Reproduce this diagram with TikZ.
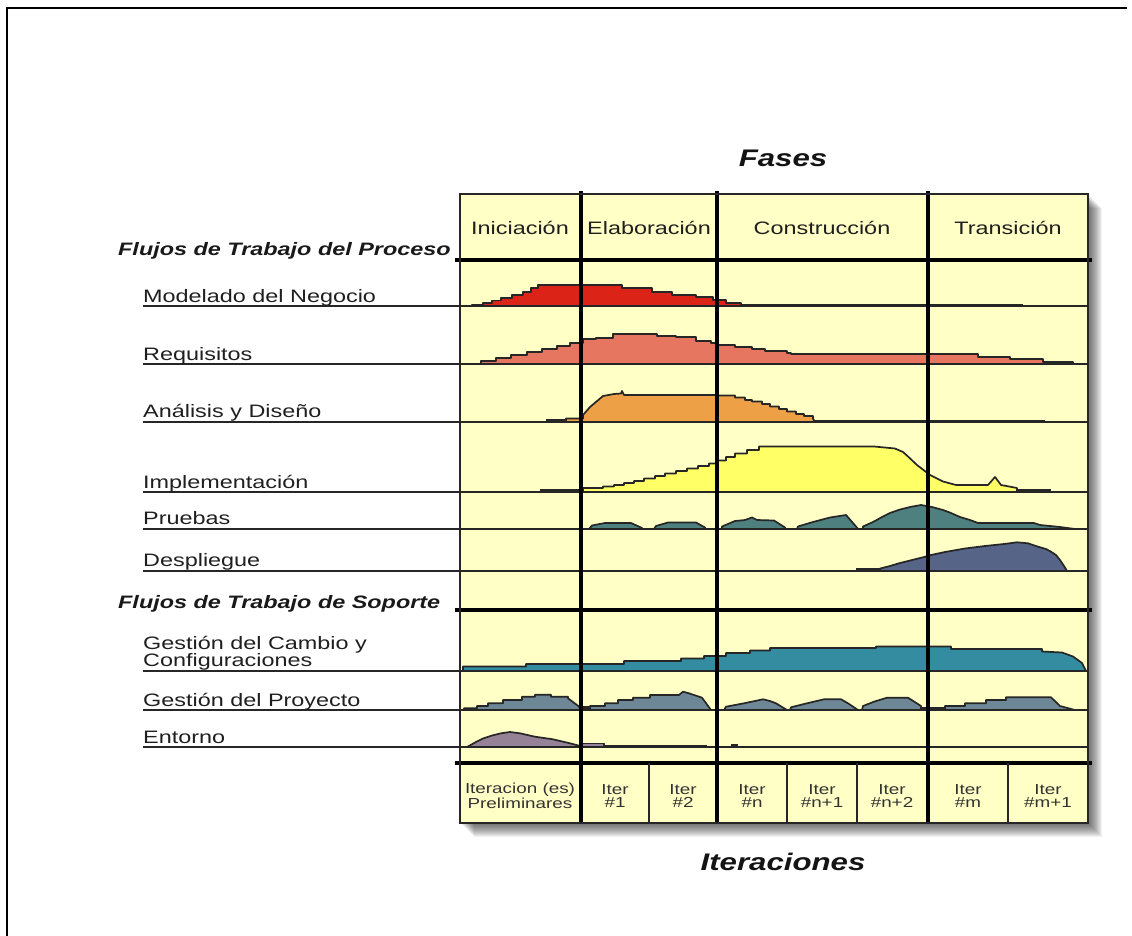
\documentclass[tikz,border=0pt]{standalone}
\usepackage{fontspec}
\setmainfont{Liberation Sans}[FakeStretch=1.3]
\definecolor{paper}{HTML}{FFFFC6}
\definecolor{cModel}{HTML}{DC2318}
\definecolor{cReq}{HTML}{E6765F}
\definecolor{cAnal}{HTML}{EEA046}
\definecolor{cImpl}{HTML}{FFFF66}
\definecolor{cTest}{HTML}{4E8080}
\definecolor{cDepl}{HTML}{556487}
\definecolor{cConf}{HTML}{348CA0}
\definecolor{cProj}{HTML}{6E8796}
\definecolor{cEnv}{HTML}{968296}
\begin{document}
\begin{tikzpicture}[x=1pt,y=-1pt,
  lbl/.style={font=\fontsize{18}{16.5}\selectfont, anchor=base west, inner sep=0pt, text=black!88},
  hdr/.style={font=\fontsize{18}{16.5}\selectfont\bfseries\itshape, anchor=base west, inner sep=0pt, text=black!90},
  phase/.style={font=\fontsize{18}{16.5}\selectfont, anchor=base, inner sep=0pt, text=black!88},
  ttl/.style={font=\fontsize{24}{26}\selectfont\bfseries\itshape, anchor=base, inner sep=0pt, text=black!92},
  iterlbl/.style={font=\fontsize{14.5}{13.5}\selectfont, align=center, inner sep=0pt, text=black!80},
  humpline/.style={draw=black!85, line width=1.7pt, line join=round},
  stubline/.style={draw=black!85, line width=2.4pt},
  rowrule/.style={draw=black!85, line width=1.3pt},
  heavyrule/.style={draw=black, line width=3.4pt},
  thinrule/.style={draw=black!85, line width=1.6pt},
  frameline/.style={draw=black, line width=2.8pt}
]
\useasboundingbox (0,0) rectangle (1132,936);

% outer frame (top and left edges)
\draw[frameline] (7,936) -- (7,8) -- (1127,8);

% soft drop shadow of the chart
\foreach \k in {1,...,14}
  \fill[black, opacity=0.055] (460+\k,194+\k) rectangle (1088+\k,823+\k);

% chart background
\fill[paper] (460,194) rectangle (1088,823);

% ---------- process workflows ----------
% Modelado del Negocio
\filldraw[humpline, fill=cModel] plot[const plot] coordinates {(464,306) (472,305) (483,303) (492,300.5) (501,298) (512,295) (523,291.7) (531,288.3) (538,285) (622,288.3) (652,291.7) (672,295) (696,297.3) (713,300) (726,302.7) (741,305) (752,306)} -- cycle;
\draw[stubline] (741,304.8) -- (1023,304.8);
\draw[stubline, line width=1.8pt] (1023,305.4) -- (1077,305.4);

% Requisitos
\filldraw[humpline, fill=cReq] plot[const plot] coordinates {(464,364) (481,361) (496,357.7) (511,355) (527,352.3) (542,349.3) (557,346) (570,343.3) (583,339.3) (596,338) (613,334) (657,336) (676,337.3) (696,340.7) (711,343.3) (717,345) (735,346.7) (752,349.3) (765,351.3) (787,353.3) (791,354) (978,356.7) (1010,359.3) (1043,361.7) (1073,364)} -- cycle;

% Analisis y Diseno
\draw[stubline] (546,420.5) -- (566,420.5);
\filldraw[humpline, fill=cAnal] (566,422) -- (566,418.5) -- (583,418.5) -- (583,415) -- (590,407) -- (603,396) -- (614,394) -- (621,393.5) -- (622,391) -- (624,395)
  -- plot[const plot] coordinates {(624,395) (717,395.5) (735,397.5) (745,400) (752,401.5) (762,404) (770,406.5) (779,409) (787,411.5) (796,414) (804,416) (813,418.5)} -- (815,422) -- cycle;
\draw[stubline] (813,420.8) -- (1045,420.8);

% Implementacion
\draw[stubline] (540,490.5) -- (583,490.5);
\filldraw[humpline, fill=cImpl] (583,492)
  -- plot[const plot] coordinates {(583,488) (603,486.5) (614,485) (624,483) (634,481) (644,478.5) (655,476) (665,473.5) (676,471) (687,468.5) (698,466) (709,463.5) (717,460.5) (726,457) (735,453.5) (747,450) (759,446.5)}
  -- (874,446.5) -- (895,448.5) -- (903,452) -- (908,456.5) -- (917,465) -- (930,475) -- (943,481.5) -- (956,485) -- (988,485) -- (995,477) -- (1001,485) -- (1017,488) -- (1017,492) -- cycle;
\draw[stubline] (1017,490.5) -- (1051,490.5);

% Pruebas
\filldraw[humpline, fill=cTest] (589,529) -- (592,525.5) -- (605,523) -- (631,523) -- (642,528) -- (642,529) -- cycle;
\filldraw[humpline, fill=cTest] (654,529) -- (656,526) -- (668,522.5) -- (696,522.5) -- (705,527.5) -- (705,529) -- cycle;
\filldraw[humpline, fill=cTest] (722,529) -- (722,526.5) -- (735,521) -- (745,520) -- (752,517.5) -- (757,520) -- (774,520.5) -- (785,527.5) -- (785,529) -- cycle;
\filldraw[humpline, fill=cTest] (797,529) -- (798,526.5) -- (813,522) -- (830,517.5) -- (846,515) -- (856,526.5) -- (858,529) -- cycle;
\filldraw[humpline, fill=cTest] (863,529) -- (863,526.5) -- (873,522) -- (882,517) -- (890,513) -- (900,509.5) -- (910,507) -- (921,505) -- (932,507) -- (943,510) -- (951,513) -- (960,517) -- (970,520) -- (978,523) -- (1034,523) -- (1040,525) -- (1060,527) -- (1075,529) -- cycle;

% Despliegue
\draw[stubline] (856,569.5) -- (880,569.5);
\filldraw[humpline, fill=cDepl] (880,571) -- (880,568.5) -- (890,566) -- (900,563) -- (912,560) -- (926,556.5) -- (931,555) -- (945,552) -- (965,548.5) -- (985,546) -- (1004,544) -- (1017,542.3) -- (1028,543.3) -- (1038,546.7) -- (1046,549) -- (1051,551.7) -- (1056,555) -- (1060,560) -- (1064,566) -- (1067,571) -- cycle;

% ---------- support workflows ----------
% Gestion del Cambio y Configuraciones
\filldraw[humpline, fill=cConf] (463,671)
  -- plot[const plot] coordinates {(463,666.5) (526,664) (624,661) (681,658.5) (704,656) (726,653) (750,650.5) (770,648) (876,646.5) (951,649) (1042,651.5)}
  -- (1062,652.5) -- (1073,656.5) -- (1082,663) -- (1086,671) -- cycle;

% Gestion del Proyecto
\filldraw[humpline, fill=cProj] (464,710)
  -- plot[const plot] coordinates {(464,708.3) (477,706) (488,703.3) (503,700) (522,696.7) (535,694.7) (551,696.7) (568,698.3)}
  -- (579,706.5) -- (581,710) -- cycle;
\draw[stubline] (581,707.5) -- (590,707.5);
\filldraw[humpline, fill=cProj] (590,710) -- (590,706)
  -- plot[const plot] coordinates {(590,706) (605,703.3) (618,700) (633,697.7) (650,695) (679,695)}
  -- (683,691.7) -- (689,693.3) -- (702,697.7) -- (711,710) -- cycle;
\filldraw[humpline, fill=cProj] (724,710) -- (726,706.7) -- (744,703.3) -- (755,701) -- (763,699.3) -- (770,701) -- (776,703.3) -- (787,710) -- cycle;
\filldraw[humpline, fill=cProj] (790,710) -- (791,707.3) -- (804,704) -- (824,699.3) -- (841,699.3) -- (848,703.3) -- (858,710) -- cycle;
\filldraw[humpline, fill=cProj] (862,710) -- (863,706) -- (874,701.7) -- (887,697.7) -- (908,697.7) -- (921,706) -- (921,710) -- cycle;
\draw[stubline] (921,708) -- (945,708);
\filldraw[humpline, fill=cProj] (945,710)
  -- plot[const plot] coordinates {(945,706) (965,703.3) (986,700) (1006,697.3) (1051,697.3)}
  -- (1060,706) -- (1075,710) -- cycle;

% Entorno
\filldraw[humpline, fill=cEnv] (467,747) -- (476,742) -- (483,738.5) -- (492,735.5) -- (501,733.3) -- (510,732) -- (520,733.3) -- (535,736.7) -- (553,739.3) -- (570,743.3) -- (579,745.7) -- (581,747) -- cycle;
\filldraw[humpline, fill=cEnv] (581,747) -- (581,743.5) -- (604,743.5) -- (604,747) -- cycle;
\draw[stubline, line width=1.8pt] (604,745.8) -- (707,745.8);
\fill[black!85] (731,743.5) rectangle (738,747);

% ---------- row rules ----------
\foreach \yy in {306,364,422,492,529,571,671,710,747}
  \draw[rowrule] (143,\yy) -- (1088,\yy);

% heavy horizontal rules
\draw[heavyrule] (455,260) -- (1092,260);
\draw[heavyrule] (455,610) -- (1092,610);
\draw[heavyrule] (455,763) -- (1092,763);

% phase separators
\foreach \xx in {581,717,928}
  \draw[heavyrule] (\xx,191) -- (\xx,823);
% iteration separators
\foreach \xx in {649,787,857,1008}
  \draw[thinrule] (\xx,763) -- (\xx,823);

% chart border
\draw[draw=black!85, line width=2.6pt] (460,194) rectangle (1088,823);

% ---------- texts ----------
\node[ttl] (fases) at (783,167) {Fases};
\node[ttl] (iteraciones) at (783,870) {Iteraciones};

\node[phase] (inic) at (520,234) {Iniciación};
\node[phase] (elab) at (649,234) {Elaboración};
\node[phase] (cons) at (822,234) {Construcción};
\node[phase] (tran) at (1008,234) {Transición};

\node[hdr] (proceso) at (118,255) {Flujos de Trabajo del Proceso};
\node[hdr] (soporte) at (118,608) {Flujos de Trabajo de Soporte};

\node[lbl] (modelado) at (143,302) {Modelado del Negocio};
\node[lbl] (requisitos) at (143,360) {Requisitos};
\node[lbl] (analisis) at (143,417) {Análisis y Diseño};
\node[lbl] (implem) at (143,488) {Implementación};
\node[lbl] (pruebas) at (143,524) {Pruebas};
\node[lbl] (despl) at (143,566) {Despliegue};
\node[lbl] (cambio1) at (143,649) {Gestión del Cambio y};
\node[lbl] (cambio2) at (143,666) {Configuraciones};
\node[lbl] (proyecto) at (143,706) {Gestión del Proyecto};
\node[lbl] (entorno) at (143,743) {Entorno};

\node[iterlbl] (itp) at (520,796) {Iteracion (es)\\Preliminares};
\node[iterlbl] (it1) at (615,796) {Iter\\\#1};
\node[iterlbl] (it2) at (683,796) {Iter\\\#2};
\node[iterlbl] (itn) at (752,796) {Iter\\\#n};
\node[iterlbl] (itn1) at (822,796) {Iter\\\#n+1};
\node[iterlbl] (itn2) at (892,796) {Iter\\\#n+2};
\node[iterlbl] (itm) at (968,796) {Iter\\\#m};
\node[iterlbl] (itm1) at (1048,796) {Iter\\\#m+1};
\end{tikzpicture}
\end{document}
